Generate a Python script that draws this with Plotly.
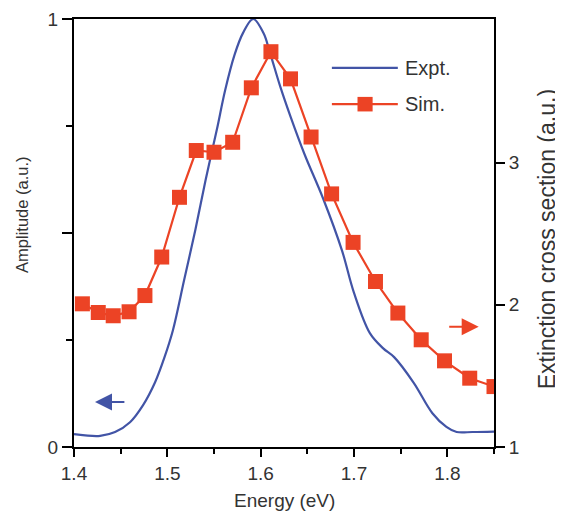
import plotly.graph_objects as go

# Experimental amplitude spectrum (left axis)
expt_energy = [1.400, 1.412, 1.428, 1.444, 1.460, 1.474, 1.487, 1.497, 1.506, 1.518,
               1.530, 1.541, 1.553, 1.562, 1.572, 1.581, 1.592, 1.603, 1.610, 1.621,
               1.632, 1.647, 1.667, 1.687, 1.700, 1.717, 1.731, 1.743, 1.764, 1.784,
               1.799, 1.810, 1.827, 1.850]
expt_amp = [0.030, 0.027, 0.026, 0.035, 0.058, 0.098, 0.152, 0.210, 0.273, 0.390,
            0.507, 0.624, 0.741, 0.834, 0.916, 0.967, 1.000, 0.967, 0.921, 0.842,
            0.772, 0.684, 0.580, 0.460, 0.360, 0.266, 0.231, 0.210, 0.150, 0.079,
            0.047, 0.035, 0.035, 0.036]

# Simulated extinction cross section (right axis)
sim_energy = [1.409, 1.426, 1.442, 1.459, 1.476, 1.494, 1.513, 1.531, 1.550, 1.570,
              1.590, 1.611, 1.632, 1.654, 1.676, 1.699, 1.723, 1.747, 1.772, 1.797,
              1.824, 1.850]
sim_ext = [2.007, 1.946, 1.923, 1.951, 2.065, 2.336, 2.756, 3.085, 3.073, 3.143,
           3.526, 3.780, 3.589, 3.180, 2.780, 2.439, 2.164, 1.942, 1.754, 1.606,
           1.484, 1.425]

x_ticks = [1.4, 1.5, 1.6, 1.7, 1.8]
x_ticktext = ["1.4", "1.5", "1.6", "1.7", "1.8"]
y_ticks = [0, 0.5, 1]
y_ticktext = ["0", "", "1"]
y2_ticks = [1, 2, 3]
y2_ticktext = ["1", "2", "3"]

BLUE = "#4254a6"
RED = "#ec4325"
FONT = "Liberation Sans, Arial, sans-serif"
TXT = "#333333"

fig = go.Figure()
fig.add_trace(go.Scatter(x=expt_energy, y=expt_amp, mode="lines", name="Expt.",
                         line=dict(color=BLUE, width=2.2, shape="spline", smoothing=1.0),
                         showlegend=False))
fig.add_trace(go.Scatter(x=sim_energy, y=sim_ext, mode="lines+markers", name="Sim.",
                         yaxis="y2",
                         line=dict(color=RED, width=2.2),
                         marker=dict(symbol="square", size=15, color=RED),
                         showlegend=False))

# Manual legend
fig.add_shape(type="line", xref="paper", yref="paper", x0=0.614, x1=0.771, y0=0.886, y1=0.886,
              line=dict(color=BLUE, width=2.2))
fig.add_shape(type="line", xref="paper", yref="paper", x0=0.614, x1=0.771, y0=0.801, y1=0.801,
              line=dict(color=RED, width=2.2))
fig.add_shape(type="rect", xref="paper", yref="paper", x0=0.675, x1=0.711, y0=0.784, y1=0.818,
              line=dict(color=RED, width=0), fillcolor=RED)
fig.add_annotation(xref="paper", yref="paper", x=0.783, y=0.886, text="Expt.", showarrow=False,
                   xanchor="left", yanchor="middle", font=dict(size=20, color=TXT, family=FONT))
fig.add_annotation(xref="paper", yref="paper", x=0.783, y=0.801, text="Sim.", showarrow=False,
                   xanchor="left", yanchor="middle", font=dict(size=20, color=TXT, family=FONT))

# Axis indicator arrows
fig.add_annotation(x=1.4225, y=0.105, ax=1.4556, ay=0.105, xref="x", yref="y", axref="x", ayref="y",
                   text="", showarrow=True, arrowhead=2, arrowsize=1.7, arrowwidth=2, arrowcolor=BLUE)
fig.add_annotation(x=1.8336, y=1.845, ax=1.8004, ay=1.845, xref="x", yref="y2", axref="x", ayref="y2",
                   text="", showarrow=True, arrowhead=2, arrowsize=1.7, arrowwidth=2, arrowcolor=RED)

# Axis titles
fig.add_annotation(xref="paper", yref="paper", x=0.5, y=-0.124, text="Energy (eV)", showarrow=False,
                   xanchor="center", yanchor="middle", font=dict(size=19, color=TXT, family=FONT))
fig.add_annotation(xref="paper", yref="paper", x=-0.124, y=0.542, text="Amplitude (a.u.)", showarrow=False,
                   textangle=-90, xanchor="center", yanchor="middle",
                   font=dict(size=16.5, color=TXT, family=FONT))
fig.add_annotation(xref="paper", yref="paper", x=1.126, y=0.485, text="Extinction cross section (a.u.)",
                   showarrow=False, textangle=-90, xanchor="center", yanchor="middle",
                   font=dict(size=23, color=TXT, family=FONT))

axis_common = dict(showline=True, linecolor="black", linewidth=2, ticks="outside",
                   tickcolor="black", tickwidth=2, showgrid=False, zeroline=False,
                   automargin=False,
                   tickfont=dict(size=19, color=TXT, family=FONT))

# The page body adds an 8 px offset, so the figure is 8 px smaller and margins shifted.
fig.update_layout(
    width=555, height=504,
    margin=dict(l=66, r=69, t=11, b=65),
    plot_bgcolor="white", paper_bgcolor="white",
    font=dict(family=FONT, size=19, color=TXT),
    xaxis=dict(range=[1.4, 1.85], tickvals=x_ticks, ticktext=x_ticktext, ticklen=8,
               mirror=True,
               minor=dict(ticks="outside", ticklen=5, tickwidth=2, tickcolor="black",
                          dtick=0.05, tick0=1.4),
               **axis_common),
    yaxis=dict(range=[0, 1], tickvals=y_ticks, ticktext=y_ticktext, ticklen=10,
               minor=dict(ticks="outside", ticklen=6, tickwidth=2, tickcolor="black",
                          tickvals=[0.25, 0.75]),
               **axis_common),
    yaxis2=dict(range=[1, 4.01], tickvals=y2_ticks, ticktext=y2_ticktext, ticklen=9,
                overlaying="y", side="right",
                **axis_common),
)

fig.write_html("out.html")
